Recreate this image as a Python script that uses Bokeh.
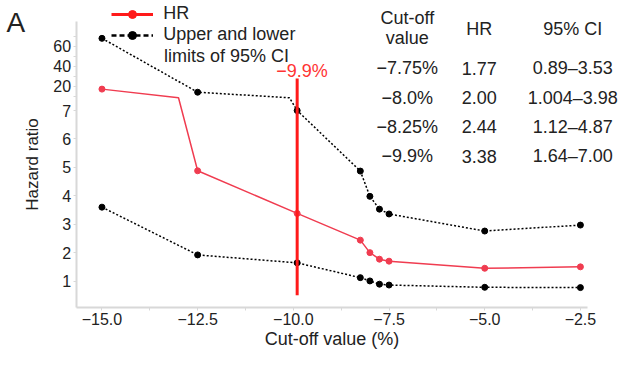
import numpy as np
from bokeh.plotting import figure
from bokeh.models import FixedTicker, Range1d, Label, Legend, LegendItem, LinearAxis, Grid
from bokeh.embed import file_html
from bokeh.resources import INLINE

# ---------------- data ----------------
hr_x = [-15.0, -13.0, -12.5, -9.9, -8.25, -8.0, -7.75, -7.5, -5.0, -2.5]
hr_y = [17.0, 9.65, 4.88, 3.38, 2.44, 2.00, 1.77, 1.70, 1.45, 1.50]

upper_x = [-15.0, -12.5, -10.1, -9.9, -8.25, -8.0, -7.75, -7.5, -5.0, -2.5]
upper_y = [68.0, 13.9, 9.65, 7.00, 4.87, 3.98, 3.53, 3.36, 2.76, 2.97]

lower_x = [-15.0, -12.5, -9.9, -8.25, -8.0, -7.75, -7.5, -5.0, -2.5]
lower_y = [3.60, 1.92, 1.64, 1.12, 1.004, 0.89, 0.86, 0.78, 0.77]

marker_x = [-15.0, -12.5, -9.9, -8.25, -8.0, -7.75, -7.5, -5.0, -2.5]

cutoff = -9.9
cutoff_label = "−9.9%"

xtick_values = [-15.0, -12.5, -10.0, -7.5, -5.0, -2.5]
xtick_labels = ["−15.0", "−12.5", "−10.0", "−7.5", "−5.0", "−2.5"]

ytick_values = [1, 2, 3, 4, 5, 6, 7, 20, 40, 60]
ytick_labels = ["1", "2", "3", "4", "5", "6", "7", "20", "40", "60"]
yminor_values = [10, 30, 50, 70]

table_header = ["Cut-off\nvalue", "HR", "95% CI"]
table_cutoff = ["−7.75%", "−8.0%", "−8.25%", "−9.9%"]
table_hr = ["1.77", "2.00", "2.44", "3.38"]
table_ci = ["0.89–3.53", "1.004–3.98", "1.12–4.87", "1.64–7.00"]

# broken (piecewise) hazard-ratio axis: value -> axis position
break_vals = [0.0, 7.0, 10.0, 60.0]
break_pos = [0.0, 7.0, 7.508, 9.26]


def to_pos(v):
    v = np.asarray(v, dtype=float)
    out = np.interp(v, break_vals, break_pos)
    slope = (break_pos[-1] - break_pos[-2]) / (break_vals[-1] - break_vals[-2])
    out = np.where(v > break_vals[-1], break_pos[-1] + (v - break_vals[-1]) * slope, out)
    return out


def pick(xs, ys):
    sel = [(x, y) for x, y in zip(xs, ys) if x in marker_x]
    return [s[0] for s in sel], [s[1] for s in sel]


FONT = "Liberation Sans"
TXT = "#222222"
RED = "#f03c50"
AX = "#d8d8d8"

W, H = 619, 349
# layout: map reference-layout pixels to figure pixels
SX, OX = 0.985, 4.0
SY, OY = 0.975, 5.0


def fx(px):
    return (px - OX) * SX


def fy(py):
    return (py - OY) * SY + 2.0


# x: -15 at layout px 107, 38.86 px per unit; y: position 1 at layout px 290.7, 29.15 px per unit
x_ppu = 38.86 * SX
y_ppu = 29.15 * SY
x0_fig = fx(107.0)
y1_fig = fy(290.7)
x_start = -15 - x0_fig / x_ppu
x_end = -15 + (W - x0_fig) / x_ppu
y_top = 1 + y1_fig / y_ppu
y_bot = 1 - (H - y1_fig) / y_ppu

# axis extents (data units) and where the axes sit
X_LO, X_HI = -15.677, -2.313
Y_LO, Y_HI = 0.0635, 10.115

p = figure(width=W, height=H, output_backend="svg", toolbar_location=None,
           x_range=Range1d(x_start, x_end), y_range=Range1d(y_bot, y_top),
           x_axis_location=None, y_axis_location=None,
           min_border_left=0, min_border_right=0, min_border_top=0,
           min_border_bottom=0)
p.outline_line_color = None
p.background_fill_color = "white"
for r in p.center:
    if isinstance(r, Grid):
        r.visible = False

# CI lines
p.line(upper_x, to_pos(upper_y), line_color="black", line_width=1.5, line_dash="2 2")
p.line(lower_x, to_pos(lower_y), line_color="black", line_width=1.5, line_dash="2 2")
ux, uy = pick(upper_x, upper_y)
lx, ly = pick(lower_x, lower_y)
p.scatter(ux, to_pos(uy), size=6, color="black")
p.scatter(lx, to_pos(ly), size=6, color="black")

# HR line
p.line(hr_x, to_pos(hr_y), line_color=RED, line_width=1.5)
hx, hy = pick(hr_x, hr_y)
p.scatter(hx, to_pos(hy), size=6, color=RED)

# cut-off vertical line
p.segment(x0=[cutoff], y0=to_pos([0.5]), x1=[cutoff], y1=to_pos([27.6]),
          line_color="#ff1a1a", line_width=3)

# axes
xaxis = LinearAxis(fixed_location=Y_LO, bounds=(X_LO, X_HI))
xaxis.ticker = FixedTicker(ticks=xtick_values,
                           minor_ticks=[(a + b) / 2 for a, b in zip(xtick_values[:-1], xtick_values[1:])])
xaxis.major_label_overrides = {v: l for v, l in zip(xtick_values, xtick_labels)}
ypos = [float(v) for v in to_pos(ytick_values)]
yaxis = LinearAxis(fixed_location=X_LO, bounds=(Y_LO, Y_HI))
yaxis.ticker = FixedTicker(ticks=ypos, minor_ticks=[float(v) for v in to_pos(yminor_values)])
yaxis.major_label_overrides = {v: l for v, l in zip(ypos, ytick_labels)}

for ax in (xaxis, yaxis):
    ax.axis_line_color = AX
    ax.axis_line_width = 2
    ax.major_tick_line_color = AX
    ax.minor_tick_line_color = AX
    ax.major_tick_in = 0
    ax.major_tick_out = 3
    ax.minor_tick_in = 0
    ax.minor_tick_out = 3
    ax.major_label_text_font = FONT
    ax.major_label_text_font_size = "16px"
    ax.major_label_text_color = TXT
    ax.axis_label_text_font = FONT
    ax.axis_label_text_font_style = "normal"
    ax.axis_label_text_color = TXT

xaxis.axis_label = "Cut-off value (%)"
xaxis.axis_label_text_font_size = "18px"
xaxis.major_label_standoff = 2
xaxis.axis_label_standoff = 1
yaxis.axis_label = "Hazard ratio"
yaxis.axis_label_text_font_size = "17px"
yaxis.major_label_standoff = 2
yaxis.axis_label_standoff = 9
p.add_layout(xaxis, "below")
p.add_layout(yaxis, "left")

# legend (NaN-only renderers for legend-only styling)
l1 = p.line([np.nan], [np.nan], line_color="#ff1a1a", line_width=3)
m1 = p.scatter([np.nan], [np.nan], size=9, color="#ff1a1a")
l2 = p.line([np.nan], [np.nan], line_color="black", line_width=2.5, line_dash="5 3")
m2 = p.scatter([np.nan], [np.nan], size=8, color="black")
item_h = 20
legend = Legend(items=[LegendItem(label="HR", renderers=[l1, m1]),
                       LegendItem(label="Upper and lower", renderers=[l2, m2])],
                location=(fx(117), H - (fy(8.3) + 2 * item_h)),
                padding=0, margin=0, spacing=0,
                label_height=item_h, glyph_height=item_h,
                glyph_width=int(round(fx(160) - fx(117))),
                label_standoff=10,
                border_line_color=None, background_fill_alpha=0,
                label_text_font=FONT, label_text_font_size="18px", label_text_color=TXT)
p.add_layout(legend, "center")


def put(text, px, py, size="18px", color=TXT, align="center"):
    p.add_layout(Label(x=fx(px), y=H - fy(py), x_units="screen", y_units="screen",
                       text=text, text_font=FONT, text_font_size=size,
                       text_color=color, text_align=align, text_baseline="middle"))


put("limits of 95% CI", 170, 59.5, align="left")
put("A", 19.5, 25, size="28px")
put(cutoff_label, 310, 75.5, color="#ff3333")

col_x = [417, 490, 585]
head_lines = table_header[0].split("\n")
put(head_lines[0], col_x[0], 20.7)
put(head_lines[1], col_x[0], 41.7)
put(table_header[1], col_x[1], 32)
put(table_header[2], col_x[2], 32)
for i, (c, h, ci) in enumerate(zip(table_cutoff, table_hr, table_ci)):
    yy = 72.5 + i * 30
    put(c, col_x[0], yy)
    put(h, col_x[1], yy)
    put(ci, col_x[2], yy)

open("out.html", "w").write(file_html(p, INLINE))
